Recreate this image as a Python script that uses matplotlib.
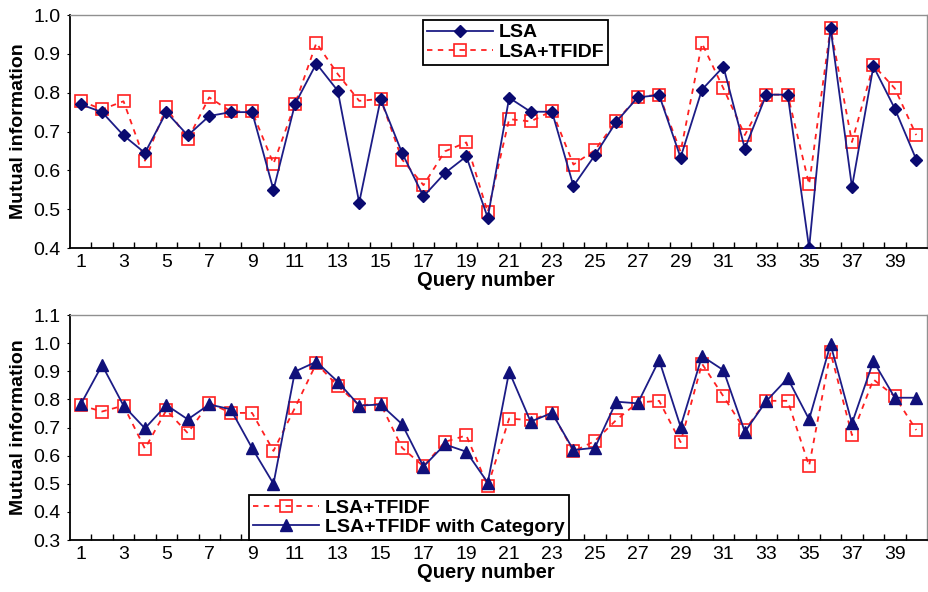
import matplotlib.pyplot as plt
import numpy as np

plt.rcParams['font.family'] = ['Liberation Sans', 'DejaVu Sans']

# query numbers 1..40
queries = np.arange(1, 41)

lsa = [0.77, 0.75, 0.69, 0.645, 0.75, 0.69, 0.74, 0.75, 0.75, 0.55,
       0.77, 0.875, 0.805, 0.517, 0.783, 0.645, 0.533, 0.593, 0.636, 0.478,
       0.787, 0.751, 0.751, 0.56, 0.639, 0.725, 0.788, 0.794, 0.633, 0.808,
       0.867, 0.656, 0.795, 0.795, 0.40, 0.967, 0.557, 0.868, 0.759, 0.628]

lsa_tfidf = [0.779, 0.757, 0.778, 0.625, 0.762, 0.68, 0.788, 0.752, 0.752, 0.617,
             0.77, 0.928, 0.848, 0.779, 0.784, 0.628, 0.562, 0.649, 0.672, 0.492,
             0.732, 0.726, 0.753, 0.615, 0.652, 0.727, 0.789, 0.795, 0.648, 0.927,
             0.811, 0.691, 0.795, 0.795, 0.564, 0.967, 0.673, 0.871, 0.811, 0.691]

lsa_tfidf_cat = [0.782, 0.922, 0.778, 0.697, 0.78, 0.729, 0.782, 0.765, 0.627, 0.50,
                 0.899, 0.934, 0.863, 0.778, 0.782, 0.712, 0.561, 0.64, 0.614, 0.504,
                 0.899, 0.721, 0.752, 0.62, 0.628, 0.792, 0.786, 0.94, 0.703, 0.954,
                 0.904, 0.685, 0.794, 0.875, 0.729, 0.996, 0.715, 0.936, 0.806, 0.806]

xtick_labels = [str(i) for i in range(1, 41, 2)]

navy = '#1c1c86'
red = '#ff2020'
fs = 14

fig = plt.figure(figsize=(9.29, 5.92), dpi=100)
ax1 = fig.add_axes([0.0753, 0.581, 0.9225, 0.3936])
ax2 = fig.add_axes([0.0753, 0.0878, 0.9225, 0.380])


def style_axes(ax, ylim, yticks):
    ax.set_xlim(0.5, 40.5)
    ax.set_ylim(*ylim)
    ax.set_xticks(range(1, 41, 2))
    ax.set_xticklabels(xtick_labels)
    ax.set_xticks(np.arange(1.5, 40.5, 1), minor=True)
    ax.tick_params(axis='x', which='major', length=0, labelsize=fs, pad=4)
    ax.tick_params(axis='x', which='minor', direction='in', length=4, width=1)
    ax.set_yticks(yticks)
    ax.set_yticklabels(['%.1f' % v for v in yticks])
    ax.tick_params(axis='y', which='major', length=2, labelsize=fs, pad=5)
    for s in ['top', 'right']:
        ax.spines[s].set_color('#909090')
        ax.spines[s].set_linewidth(1)
    for s in ['left', 'bottom']:
        ax.spines[s].set_color('black')
        ax.spines[s].set_linewidth(1.3)
    ax.set_xlabel('Query number', fontsize=14.5, fontweight='bold', labelpad=0)
    ax.xaxis.set_label_coords(0.485, -0.1)
    ax.set_ylabel('Mutual information', fontsize=14, fontweight='bold', labelpad=4)


def add_legend(ax, loc, anchor):
    leg = ax.legend(loc=loc, bbox_to_anchor=anchor, fancybox=False,
                    edgecolor='black', framealpha=1, borderpad=0.2,
                    labelspacing=0.1, handlelength=3.4, handletextpad=0.3,
                    borderaxespad=0, prop={'weight': 'bold', 'size': fs})
    leg.get_frame().set_linewidth(1.3)
    return leg


# top panel
ax1.plot(queries, lsa, color=navy, lw=1.3, marker='D', ms=6.5,
         mfc='#0a0a70', mec='#0a0a70', label='LSA', zorder=3)
ax1.plot(queries, lsa_tfidf, color=red, lw=1.3, ls=(0, (3, 3)), marker='s', ms=8,
         mfc='none', mec=red, mew=1.2, label='LSA+TFIDF', zorder=2)
style_axes(ax1, (0.4, 1.0), np.arange(0.4, 1.01, 0.1))
add_legend(ax1, 'upper left', (0.412, 0.979))

# bottom panel
ax2.plot(queries, lsa_tfidf, color=red, lw=1.3, ls=(0, (3, 3)), marker='s', ms=8,
         mfc='none', mec=red, mew=1.2, label='LSA+TFIDF', zorder=2)
ax2.plot(queries, lsa_tfidf_cat, color=navy, lw=1.3, marker='^', ms=8,
         mfc='#10107a', mec='#10107a', label='LSA+TFIDF with Category', zorder=3)
style_axes(ax2, (0.3, 1.1), np.arange(0.3, 1.11, 0.1))
add_legend(ax2, 'lower left', (0.209, 0.0))

fig.savefig('out.png', dpi=100)
